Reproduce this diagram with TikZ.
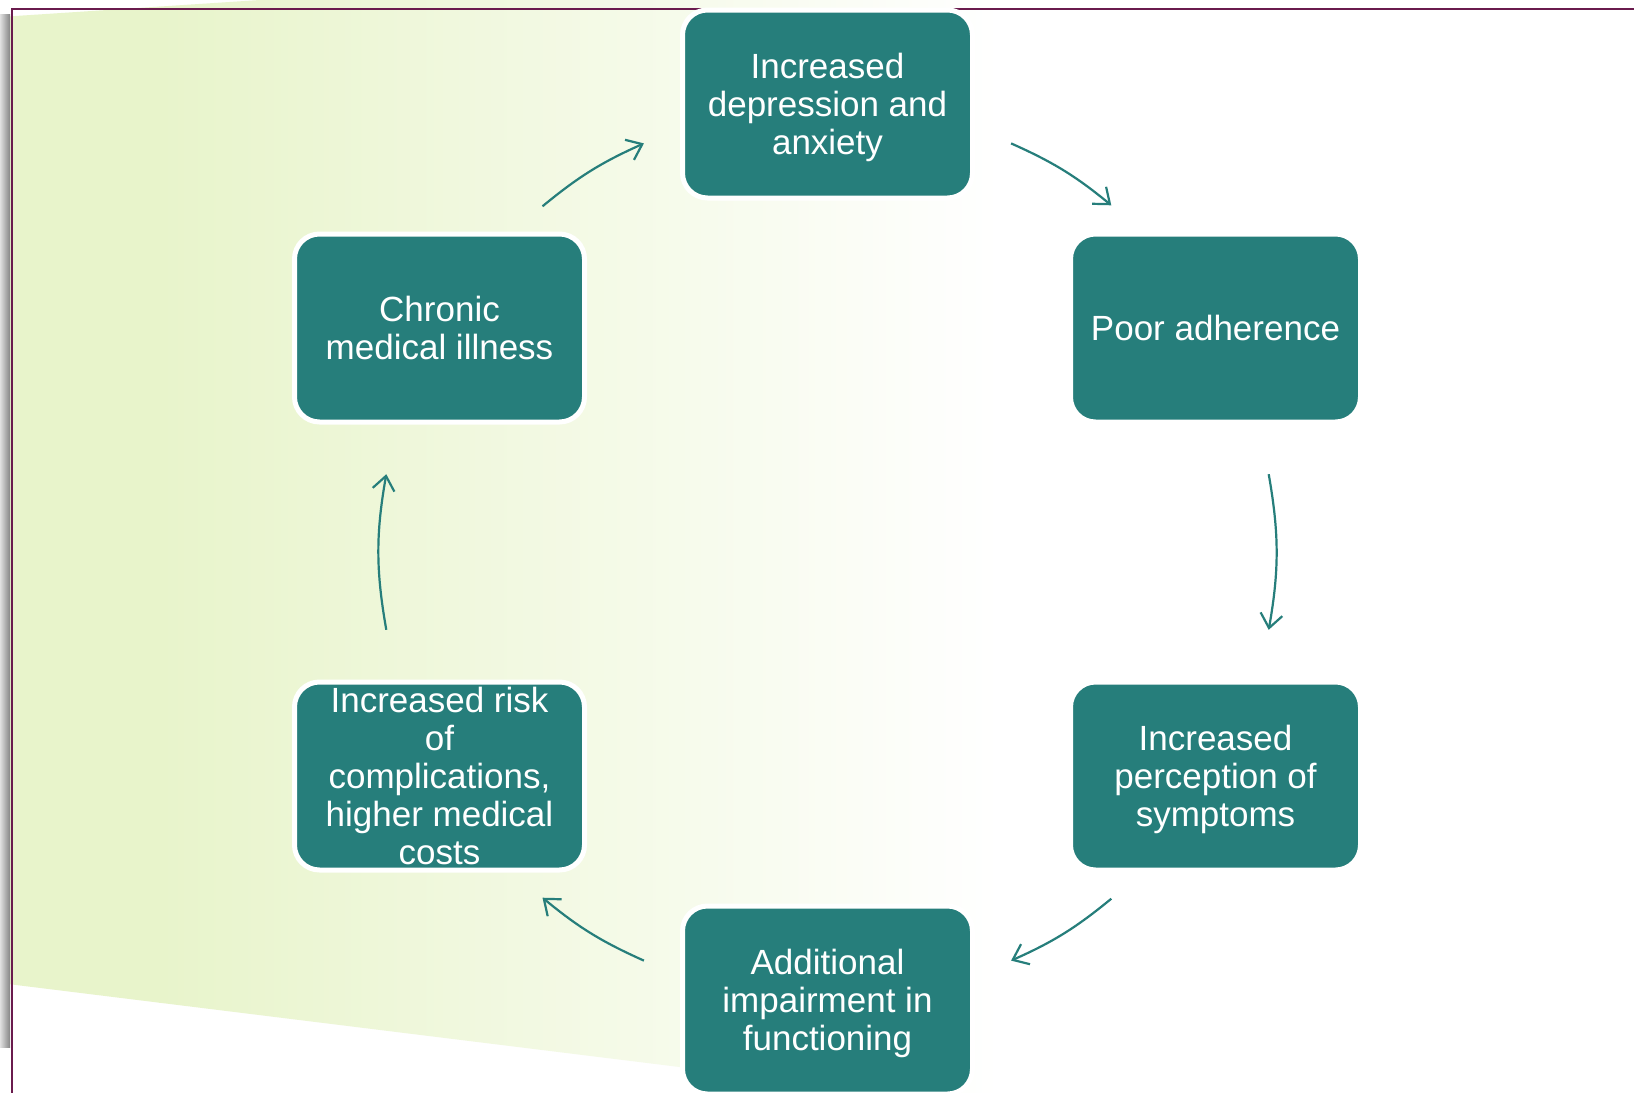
\documentclass[tikz,border=0pt]{standalone}
\usepackage{fontspec}
\setmainfont{Liberation Sans}
\usetikzlibrary{arrows.meta,calc}
\definecolor{tealbox}{RGB}{38,126,123}
\definecolor{greenA}{RGB}{232,244,203}
\definecolor{framepurple}{RGB}{106,27,77}
\begin{document}
\begin{tikzpicture}[x=1pt,y=-1pt,
  box/.style={rectangle, rounded corners=25pt, fill=tealbox, draw=white, line width=5pt,
    minimum width=290pt, minimum height=188pt, inner sep=0pt, align=center, text=white,
    text depth=0pt, font=\fontsize{35}{38}\selectfont},
  cyc/.style={draw=tealbox, line width=2.2pt, -{Straight Barb[length=14pt,width=22pt]}}
]
\useasboundingbox (0,0) rectangle (1634,1093);
\fill[white] (0,0) rectangle (1634,1093);
% green background shape
\begin{scope}
  \clip (0,17) -- (260,0) -- (1150,0) -- (1150,1093) -- (890,1093) -- (0,983) -- cycle;
  \fill[greenA] (0,0) rectangle (160,1093);
  \shade[left color=greenA, right color=white] (159,0) rectangle (1000,1093);
\end{scope}
% left shadow strip
\shade[left color=black!12, right color=black!48] (0,14) rectangle (10,1047);
% frame lines
\draw[framepurple, line width=2.5pt] (11,9) -- (1634,9);
\draw[framepurple, line width=2pt] (12,9) -- (12,1093);
% boxes
\node[box] (top) at (827.5,104) {Increased\\depression and\\anxiety};
\node[box] (poor) at (1215.5,328) {Poor adherence};
\node[box] (perc) at (1215.5,776) {Increased\\perception of\\symptoms};
\node[box] (add) at (827.5,1000) {Additional\\impairment in\\functioning};
\node[box] (risk) at (439.5,776) {Increased risk\\of\\complications,\\higher medical\\costs};
\node[box] (chron) at (439.5,328) {Chronic\\medical illness};
% arrow end points
\coordinate (a1s) at (542.5,206.3);
\coordinate (a1e) at (643.9,143.4);
\coordinate (a2s) at (1011.1,143.4);
\coordinate (a2e) at (1111.3,205.3);
\coordinate (a3s) at (1268.7,474.2);
\coordinate (a3e) at (1268.7,629.8);
\coordinate (a4s) at (1111.3,898.7);
\coordinate (a4e) at (1011.1,960.6);
\coordinate (a5s) at (643.9,960.6);
\coordinate (a5e) at (542.5,897.7);
\coordinate (a6s) at (386.3,629.8);
\coordinate (a6e) at (386.3,474.2);
\draw[cyc] (a1s) to[bend left=7.7] (a1e);
\draw[cyc] (a2s) to[bend left=7.7] (a2e);
\draw[cyc] (a3s) to[bend left=10] (a3e);
\draw[cyc] (a4s) to[bend left=7.7] (a4e);
\draw[cyc] (a5s) to[bend left=7.7] (a5e);
\draw[cyc] (a6s) to[bend left=10] (a6e);
\end{tikzpicture}
\end{document}
